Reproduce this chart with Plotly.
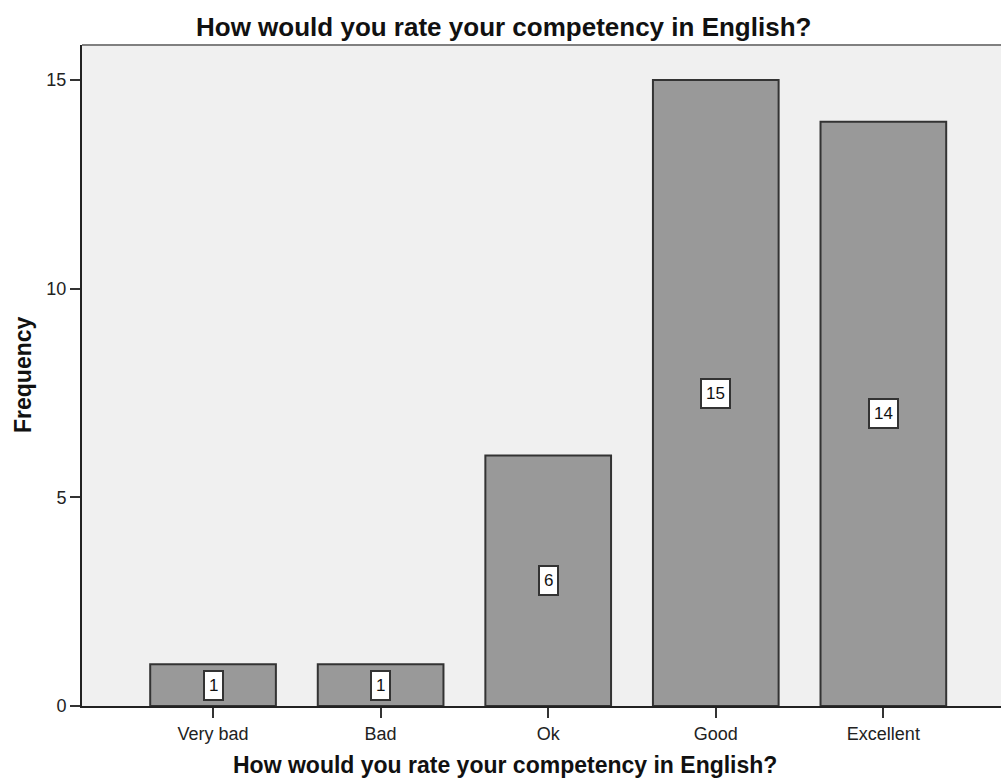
import plotly.graph_objects as go

categories = ["Very bad", "Bad", "Ok", "Good", "Excellent"]
frequencies = [1, 1, 6, 15, 14]
y_ticks = [0, 5, 10, 15]

title_text = "How would you rate your competency in English?"
y_title = "Frequency"

FONT = "Liberation Sans, Arial, sans-serif"

# plotting-area geometry in pixels (used to place free-standing titles)
W, H = 1001, 780
L, R, T, B = 82, 0, 45, 74
plot_w = W - L - R
plot_h = H - T - B


def px_to_paper(px, py):
    return (px - L) / plot_w, (H - B - py) / plot_h


fig = go.Figure()

fig.add_trace(go.Bar(
    x=list(range(len(categories))),
    y=frequencies,
    width=0.75,
    marker=dict(color="#999999", line=dict(color="#333333", width=2)),
    hoverinfo="skip",
))

# value boxes centred on each bar
for i, v in enumerate(frequencies):
    fig.add_annotation(
        x=i, y=v / 2, xref="x", yref="y",
        text=str(v), showarrow=False,
        font=dict(family=FONT, size=17, color="#111111"),
        bgcolor="white", bordercolor="#333333", borderwidth=2, borderpad=4,
    )

# chart title
tx, ty = px_to_paper(503, 27)
fig.add_annotation(
    x=tx, y=ty, xref="paper", yref="paper",
    text="<b>" + title_text + "</b>", showarrow=False,
    xanchor="center", yanchor="middle",
    font=dict(family=FONT, size=26, color="#111111"),
)

# x-axis title
ax, ay = px_to_paper(505, 765)
fig.add_annotation(
    x=ax, y=ay, xref="paper", yref="paper",
    text="<b>" + title_text + "</b>", showarrow=False,
    xanchor="center", yanchor="middle",
    font=dict(family=FONT, size=23, color="#111111"),
)

# y-axis title
fx, fy = px_to_paper(23, 375)
fig.add_annotation(
    x=fx, y=fy, xref="paper", yref="paper",
    text="<b>" + y_title + "</b>", showarrow=False,
    textangle=-90, xanchor="center", yanchor="middle",
    font=dict(family=FONT, size=23, color="#111111"),
)

# grey frame along the top of the plotting area
fig.add_shape(type="line", xref="paper", yref="paper",
              x0=0, x1=1, y0=1, y1=1,
              line=dict(color="#808080", width=2))

fig.update_layout(
    width=W, height=H,
    margin=dict(l=L, r=R, t=T, b=B),
    paper_bgcolor="white",
    plot_bgcolor="#f0f0f0",
    showlegend=False,
    font=dict(family=FONT, color="#222222"),
    xaxis=dict(
        range=[-0.782, 4.702],
        tickmode="array",
        tickvals=list(range(len(categories))),
        ticktext=categories,
        ticks="outside", ticklen=10, tickwidth=2, tickcolor="#333333",
        showline=True, linecolor="#222222", linewidth=2,
        showgrid=False, zeroline=False,
        tickfont=dict(family=FONT, size=18, color="#222222"),
    ),
    yaxis=dict(
        range=[0, 15.84],
        tickmode="array",
        tickvals=y_ticks,
        ticks="outside", ticklen=10, tickwidth=2, tickcolor="#333333",
        showline=True, linecolor="#222222", linewidth=2,
        showgrid=False, zeroline=False,
        tickfont=dict(family=FONT, size=18, color="#222222"),
    ),
)

fig.write_html("out.html")
